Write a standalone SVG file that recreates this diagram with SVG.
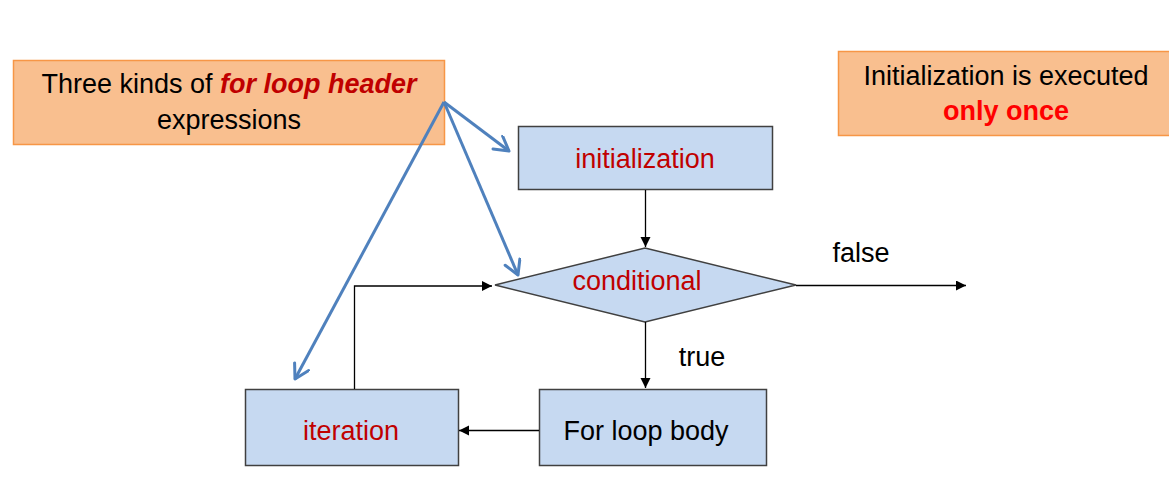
<svg xmlns="http://www.w3.org/2000/svg" width="1169" height="495" viewBox="0 0 1169 495">
<style>
.note{fill:#F9BF8F;stroke:#F79646;stroke-width:1.5}
.node{fill:#C6D9F1;stroke:#404040;stroke-width:1.5}
text{font-family:"Liberation Sans",Arial,sans-serif;font-size:27px;text-anchor:middle;fill:#000}
.red{fill:#C00000}
.flow{fill:none;stroke:#000;stroke-width:1.3}
.blue{fill:none;stroke:#4F81BD;stroke-width:3}
</style>
<defs>
<marker id="ah" markerUnits="userSpaceOnUse" markerWidth="12" markerHeight="12" refX="10" refY="5" orient="auto">
<path d="M0,0 L10,5 L0,10 Z" fill="#000"/>
</marker>
<marker id="bh" markerUnits="userSpaceOnUse" markerWidth="22" markerHeight="22" refX="16" refY="9" orient="auto">
<path d="M2,1 L16,9 L2,17" fill="none" stroke="#4F81BD" stroke-width="3" stroke-linejoin="round" stroke-linecap="round"/>
</marker>
</defs>
<rect width="1169" height="495" fill="#fff"/>
<g id="note-header">
<rect class="note" x="13.5" y="60.5" width="431" height="84"/>
<text x="229" y="93"><tspan>Three kinds of </tspan><tspan class="red" font-weight="bold" font-style="italic">for loop header</tspan></text>
<text x="229" y="129">expressions</text>
</g>
<g id="note-once">
<rect class="note" x="838.5" y="51.5" width="340" height="84"/>
<text x="1006" y="85">Initialization is executed</text>
<text x="1006" y="120" font-weight="bold" style="fill:#FF0000">only once</text>
</g>
<g id="initialization">
<rect class="node" x="518.5" y="126.5" width="254" height="63"/>
<text class="red" x="645" y="168">initialization</text>
</g>
<g id="conditional">
<polygon class="node" points="495,285 645,248 796,285 645,322"/>
<text class="red" x="637" y="290">conditional</text>
</g>
<g id="iteration">
<rect class="node" x="245.5" y="389.5" width="213" height="76"/>
<text class="red" x="351" y="440">iteration</text>
</g>
<g id="body">
<rect class="node" x="539.5" y="389.5" width="227" height="76"/>
<text x="646" y="440">For loop body</text>
</g>
<g id="connectors">
<line class="flow" x1="645.5" y1="190" x2="645.5" y2="247" marker-end="url(#ah)"/>
<line class="flow" x1="796" y1="285.5" x2="966" y2="285.5" marker-end="url(#ah)"/>
<line class="flow" x1="645.5" y1="322" x2="645.5" y2="388" marker-end="url(#ah)"/>
<line class="flow" x1="539" y1="430.5" x2="459" y2="430.5" marker-end="url(#ah)"/>
<polyline class="flow" points="354.5,389 354.5,286 492,286" marker-end="url(#ah)"/>
<text x="861" y="262">false</text>
<text x="702" y="366">true</text>
<line class="blue" x1="444" y1="102" x2="509" y2="151" marker-end="url(#bh)"/>
<line class="blue" x1="444" y1="102" x2="518" y2="275" marker-end="url(#bh)"/>
<line class="blue" x1="444" y1="102" x2="295" y2="379" marker-end="url(#bh)"/>
</g>
</svg>
